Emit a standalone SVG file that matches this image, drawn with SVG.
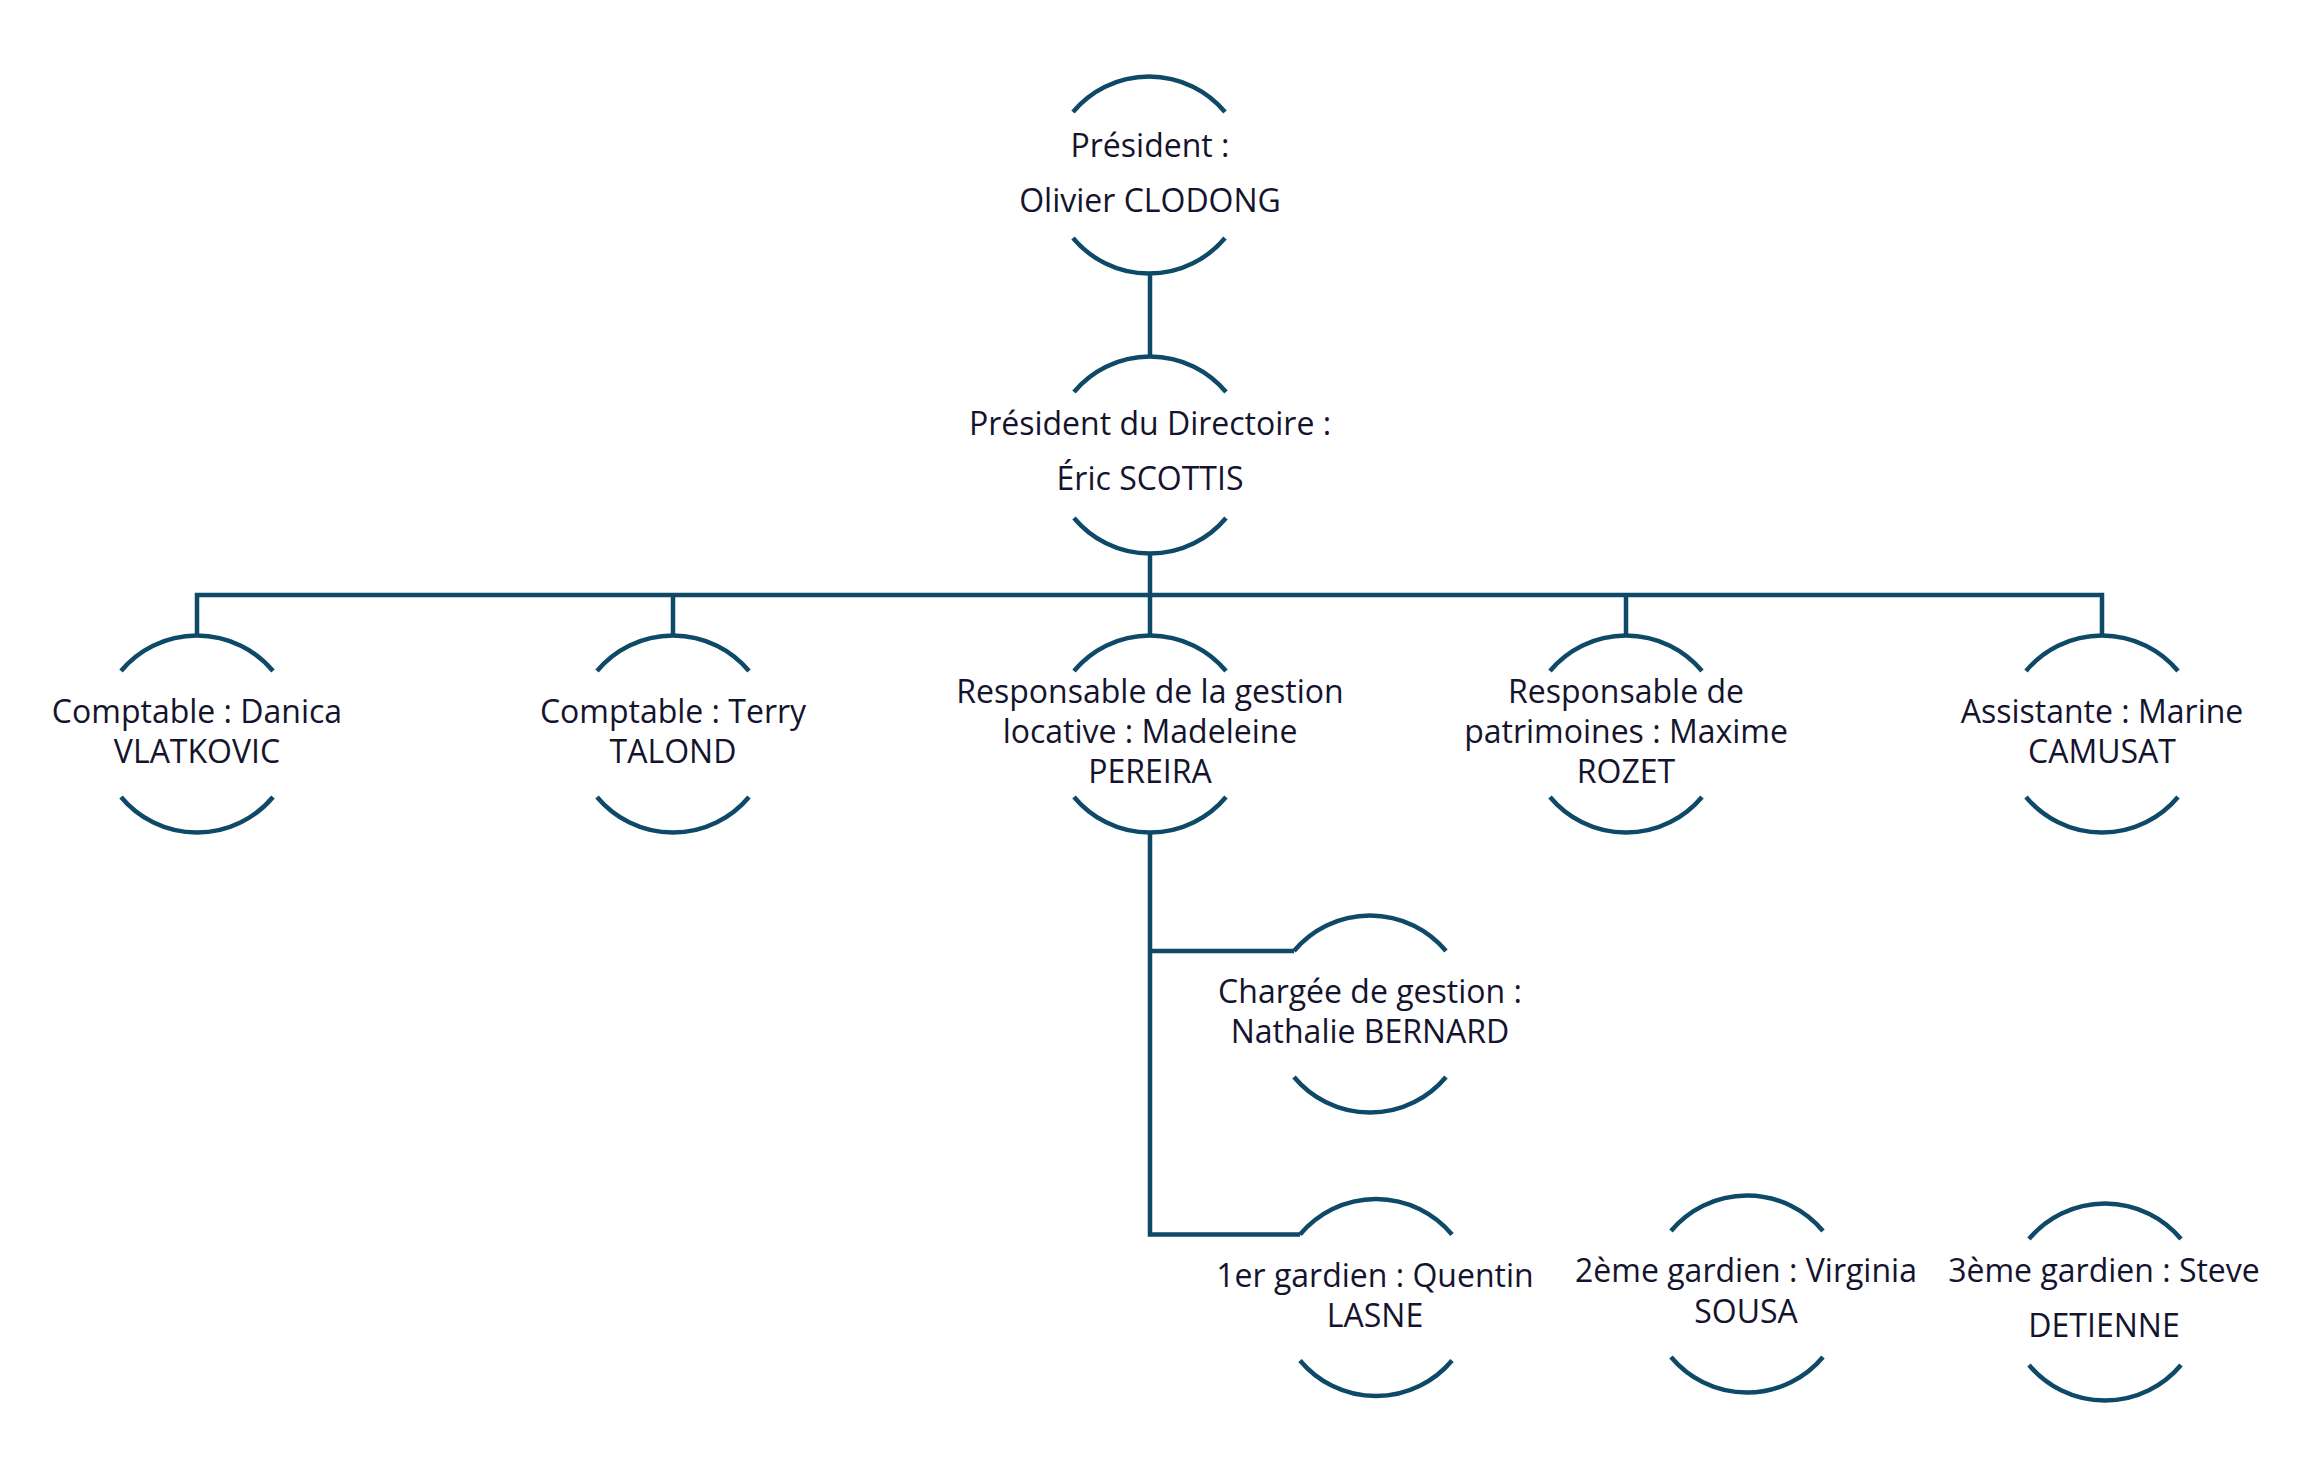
<svg xmlns="http://www.w3.org/2000/svg" xmlns:xlink="http://www.w3.org/1999/xlink" width="2299" height="1468" viewBox="0 0 2299 1468">
  <style>
    .arc { fill: none; stroke: #0e4a68; stroke-width: 4.5; stroke-linecap: butt; }
    .link { fill: none; stroke: #0e4a68; stroke-width: 4.5; stroke-linejoin: miter; stroke-linecap: butt; }
    .lbl { font-family: "Open Sans", "Noto Sans", "Liberation Sans", sans-serif; font-size: 32px; fill: #14142e; text-anchor: middle; }
  </style>
  <defs>
    <!-- open ring: a top and a bottom arc, gaps on the sides -->
    <path id="ring" d="M-76,-63 A99,99 0 0 1 76,-63 M-76,63 A99,99 0 0 0 76,63"/>
  </defs>
  <rect x="0" y="0" width="2299" height="1468" fill="#ffffff"/>

  <!-- connectors -->
  <g id="connectors" class="link">
    <path d="M1150,273 V357"/>
    <path d="M1150,553 V635"/>
    <path d="M197,635 V595 H2102 V635"/>
    <path d="M673,595 V635"/>
    <path d="M1626,595 V635"/>
    <path d="M1150,833 V1234.5 H1300"/>
    <path d="M1150,951 H1294"/>
  </g>

  <g id="president">
    <use xlink:href="#ring" class="arc" transform="translate(1149,175)"/>
    <text class="lbl" x="1150" y="157">Président :</text>
    <text class="lbl" x="1150" y="212">Olivier CLODONG</text>
  </g>

  <g id="directoire">
    <use xlink:href="#ring" class="arc" transform="translate(1150,455)"/>
    <text class="lbl" x="1150" y="435">Président du Directoire :</text>
    <text class="lbl" x="1150" y="490">Éric SCOTTIS</text>
  </g>

  <g id="comptable-vlatkovic">
    <use xlink:href="#ring" class="arc" transform="translate(197,734)"/>
    <text class="lbl" x="197" y="723">Comptable : Danica</text>
    <text class="lbl" x="197" y="763">VLATKOVIC</text>
  </g>

  <g id="comptable-talond">
    <use xlink:href="#ring" class="arc" transform="translate(673,734)"/>
    <text class="lbl" x="673" y="723">Comptable : Terry</text>
    <text class="lbl" x="673" y="763">TALOND</text>
  </g>

  <g id="gestion-locative">
    <use xlink:href="#ring" class="arc" transform="translate(1150,734)"/>
    <text class="lbl" x="1150" y="703">Responsable de la gestion</text>
    <text class="lbl" x="1150" y="743">locative : Madeleine</text>
    <text class="lbl" x="1150" y="783">PEREIRA</text>
  </g>

  <g id="patrimoines">
    <use xlink:href="#ring" class="arc" transform="translate(1626,734)"/>
    <text class="lbl" x="1626" y="703">Responsable de</text>
    <text class="lbl" x="1626" y="743">patrimoines : Maxime</text>
    <text class="lbl" x="1626" y="783">ROZET</text>
  </g>

  <g id="assistante">
    <use xlink:href="#ring" class="arc" transform="translate(2102,734)"/>
    <text class="lbl" x="2102" y="723">Assistante : Marine</text>
    <text class="lbl" x="2102" y="763">CAMUSAT</text>
  </g>

  <g id="chargee-gestion">
    <use xlink:href="#ring" class="arc" transform="translate(1370,1014)"/>
    <text class="lbl" x="1370" y="1003">Chargée de gestion :</text>
    <text class="lbl" x="1370" y="1043">Nathalie BERNARD</text>
  </g>

  <g id="gardien-1">
    <use xlink:href="#ring" class="arc" transform="translate(1376,1297.5)"/>
    <text class="lbl" x="1375" y="1287">1er gardien : Quentin</text>
    <text class="lbl" x="1375" y="1327">LASNE</text>
  </g>

  <g id="gardien-2">
    <use xlink:href="#ring" class="arc" transform="translate(1747,1294)"/>
    <text class="lbl" x="1746" y="1282">2ème gardien : Virginia</text>
    <text class="lbl" x="1746" y="1323">SOUSA</text>
  </g>

  <g id="gardien-3">
    <use xlink:href="#ring" class="arc" transform="translate(2105,1302)"/>
    <text class="lbl" x="2104" y="1282">3ème gardien : Steve</text>
    <text class="lbl" x="2104" y="1337">DETIENNE</text>
  </g>
</svg>
